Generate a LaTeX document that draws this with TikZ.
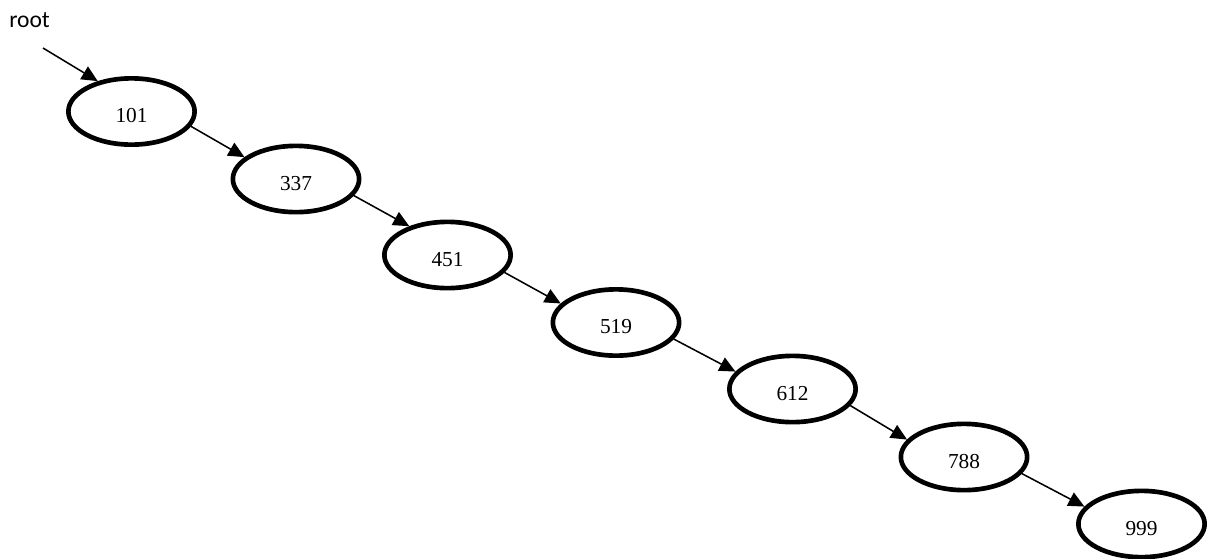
\documentclass[tikz,border=0pt]{standalone}
\usepackage{fontspec}
\setmainfont{Liberation Serif}
\newfontfamily\rootfont{Carlito}
\usetikzlibrary{shapes.geometric,arrows.meta}
\begin{document}
\begin{tikzpicture}[x=0.75pt,y=-0.75pt,
  treenode/.style={ellipse,draw,line width=3.5pt,inner sep=0pt,
    minimum width=94.7pt,minimum height=49.7pt,
    font=\fontsize{16}{18}\selectfont,text height=16.6pt,text depth=0pt},
  link/.style={line width=1.15pt,-{Triangle[length=12pt,width=11pt]}}]
\useasboundingbox (0,0) rectangle (1216,558);
\node[anchor=base west,inner sep=0pt,font=\rootfont\fontsize{17.7}{20}\selectfont] (rt) at (9,27) {root};
\coordinate (start) at (43,48);
\node[treenode] (n1) at (131.5,111.5) {101};
\node[treenode] (n2) at (296,179) {337};
\node[treenode] (n3) at (447.5,255) {451};
\node[treenode] (n4) at (616,322.5) {519};
\node[treenode] (n5) at (792.5,389) {612};
\node[treenode] (n6) at (964,457) {788};
\node[treenode] (n7) at (1141.5,524) {999};
\draw[link] (start) -- (n1.138);
\draw[link] (n1.-14) -- (n2.157);
\draw[link] (n2.-16) -- (n3.143);
\draw[link] (n3.-17) -- (n4.161);
\draw[link] (n4.-16.6) -- (n5.163);
\draw[link] (n5.-16.4) -- (n6.163);
\draw[link] (n6.-16.8) -- (n7.163);
\end{tikzpicture}
\end{document}
